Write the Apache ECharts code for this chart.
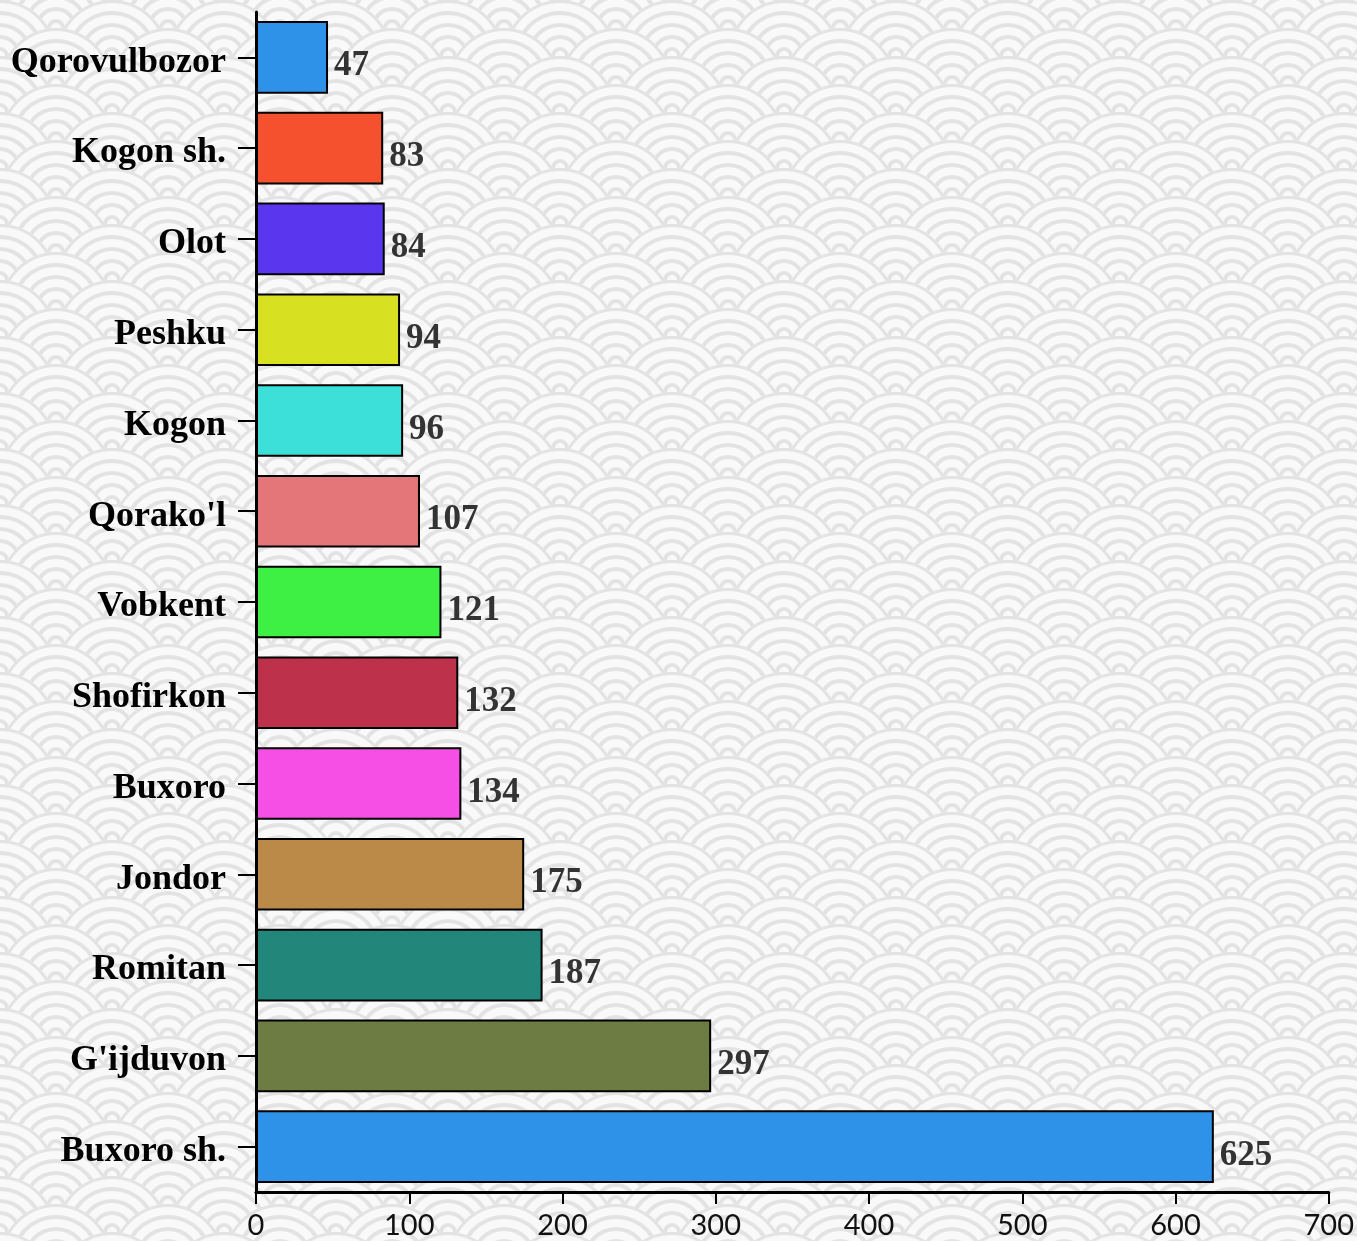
<!DOCTYPE html>
<html><head><meta charset="utf-8">
<script src="https://cdn.jsdelivr.net/npm/echarts@6/dist/echarts.min.js"></script>
<style>html,body{margin:0;padding:0;}#c{width:1357px;height:1241px;}</style>
</head><body><div id="c"></div>
<script>
const categories = ["Qorovulbozor","Kogon sh.","Olot","Peshku","Kogon","Qorako'l","Vobkent","Shofirkon","Buxoro","Jondor","Romitan","G'ijduvon","Buxoro sh."];
const values = [47,83,84,94,96,107,121,132,134,175,187,297,625];
const colors = ["#2e93e8","#f5512e","#5a37ee","#d8e022","#3ddfd9","#e47578","#3eef44","#bd314b","#f54fe5","#bb8a48","#22877a","#6d7c43","#2e93e8"];

// seigaiha background pattern
(function(){
  const R=56,W=2*R,H=R;
  const cv=document.createElement('canvas');cv.width=W;cv.height=H;
  const g=cv.getContext('2d');
  g.fillStyle='#f4f4f4';g.fillRect(0,0,W,H);
  const G='#e3e3e3',Wt='#f9f9f9';
  function wave(cx,cy){
    const rings=[[R,G],[R-3,Wt],[R-11,G],[R-15,Wt],[R-23,G],[R-27,Wt],[R-35,G],[R-39,Wt],[R-47,G],[R-51,Wt]];
    for(const [rr,col] of rings){g.beginPath();g.arc(cx,cy,rr,0,Math.PI*2);g.fillStyle=col;g.fill();}
  }
  const rows=[-R/2,0,R/2,R,3*R/2];
  rows.forEach((cy,k)=>{
    const off=(Math.round(cy/(R/2))%2===0)?0:R;
    for(let cx=-W+off;cx<=W*2;cx+=W){wave(cx,cy);}
  });
  document.body.style.backgroundImage='url('+cv.toDataURL()+')';
})();

const chart=echarts.init(document.getElementById('c'),null,{renderer:'canvas'});
chart.setOption({
  backgroundColor:'transparent',
  animation:false,
  grid:{left:256,right:27,top:12,bottom:49,containLabel:false},
  xAxis:{type:'value',min:0,max:700,interval:100,
    axisLine:{show:true,lineStyle:{color:'#000',width:3}},
    axisTick:{show:true,length:12,lineStyle:{color:'#000',width:2}},
    splitLine:{show:false},
    axisLabel:{color:'#111',fontFamily:'Lato',fontSize:29,margin:19}},
  yAxis:{type:'category',data:categories,inverse:true,
    axisLine:{show:true,lineStyle:{color:'#000',width:3}},
    axisTick:{show:true,length:18,alignWithLabel:true,lineStyle:{color:'#000',width:2}},
    axisLabel:{margin:30,formatter:v=>'{a|'+v+'}',
      rich:{a:{color:'#000',fontFamily:'Liberation Serif',fontWeight:'bold',fontSize:36,padding:[10,0,0,0]}}}},
  series:[{type:'bar',data:values.map((v,i)=>({value:v,itemStyle:{color:colors[i]}})),
    barCategoryGap:'20%',
    itemStyle:{borderColor:'#000',borderWidth:2},
    label:{show:true,position:'right',distance:6,offset:[0,9],color:'#333',fontFamily:'Liberation Serif',fontWeight:'bold',fontSize:35}}]
});
</script></body></html>
